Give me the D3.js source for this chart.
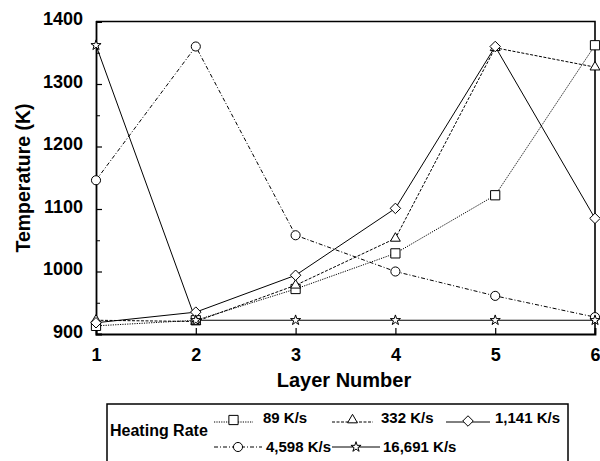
<!DOCTYPE html>
<html><head><meta charset="utf-8">
<script src="https://cdn.jsdelivr.net/npm/d3@7"></script>
<style>body{margin:0;background:#fff}svg{display:block;font-family:"Liberation Sans",Arial,sans-serif;font-weight:bold}</style>
</head><body><svg id="c" width="600" height="461"></svg>
<script>
const layers = [1,2,3,4,5,6];
const seriesNames = ["89 K/s","332 K/s","1,141 K/s","4,598 K/s","16,691 K/s"];
const s89 = [913, 922, 972, 1029, 1122, 1362];
const s332 = [922, 920, 978, 1053, 1358, 1327];
const s1141 = [918, 935, 994, 1101, 1360, 1085];
const s4598 = [1146, 1360, 1058, 1000, 961, 927];
const s16691 = [1362, 922, 922, 922, 922, 922];
const yTicks = [900,1000,1100,1200,1300,1400];
const xTicks = [1,2,3,4,5,6];
const symbols = ["square","triangle","diamond","circle","star"];
const dashes = ["1.2,1.2","3,1.5","none","4,2,1,2","none"];
const allSeries = [s89,s332,s1141,s4598,s16691];

const svg = d3.select("#c");
const x = d3.scaleLinear().domain([1,6]).range([96,595]);
const y = d3.scaleLinear().domain([900,1400]).range([334,21.5]);

// axes
const gx = svg.append("g").attr("transform","translate(0,334)")
  .call(d3.axisBottom(x).tickValues(xTicks).tickSize(-6).tickPadding(14).tickFormat(d3.format("d")));
const gy = svg.append("g").attr("transform","translate(96,0)")
  .call(d3.axisLeft(y).tickValues(yTicks).tickSize(-6).tickPadding(13).tickFormat(d3.format("d")));
svg.append("g").attr("transform","translate(96,0)")
  .call(d3.axisLeft(y).tickValues(d3.range(950,1400,100)).tickSize(-4).tickFormat(""))
  .select(".domain").remove();
[gx,gy].forEach(g=>{g.selectAll("text").attr("font-size",18).attr("font-weight","bold").attr("fill","#000");
  g.select(".domain").attr("stroke-width",1.8);
  g.selectAll(".tick line").attr("stroke-width",1.2);});
gy.selectAll(".tick text").attr("dy","0.18em");
// frame top/right
svg.append("path").attr("d",`M${x(1)},${y(1400)}H${x(6)}V${y(900)}`).attr("fill","none").attr("stroke","#000").attr("stroke-width",1.6);

svg.append("text").attr("x",344).attr("y",387).attr("text-anchor","middle").attr("font-size",20).text("Layer Number");
svg.append("text").attr("transform","translate(30,178) rotate(-90)").attr("text-anchor","middle").attr("font-size",19.5).text("Temperature (K)");

const line = d3.line().x((d,i)=>x(layers[i])).y(d=>y(d));
const diamond = {draw(ctx,size){const r=Math.sqrt(size)/Math.SQRT2;ctx.moveTo(0,-r);ctx.lineTo(r,0);ctx.lineTo(0,r);ctx.lineTo(-r,0);ctx.closePath();}};
const symType = {square:d3.symbolSquare,triangle:d3.symbolTriangle,diamond:diamond,circle:d3.symbolCircle,star:d3.symbolStar};
const symSize = {square:85,triangle:42,diamond:55,circle:65,star:32};
function sym(name){return d3.symbol().type(symType[name]).size(symSize[name])();}

allSeries.forEach((s,k)=>{
  svg.append("path").attr("d",line(s)).attr("fill","none").attr("stroke","#000")
    .attr("stroke-width",1).attr("stroke-dasharray",dashes[k]);
});
allSeries.forEach((s,k)=>{
  svg.append("g").selectAll("path").data(s).join("path")
    .attr("transform",(d,i)=>`translate(${x(layers[i])},${y(d)})`)
    .attr("d",sym(symbols[k])).attr("fill","#fff").attr("stroke","#000").attr("stroke-width",1);
});

// legend
svg.append("rect").attr("x",107).attr("y",404).attr("width",461).attr("height",70).attr("fill","#fff").attr("stroke","#000").attr("stroke-width",1.5);
svg.append("text").attr("x",110).attr("y",436).attr("font-size",16).text("Heating Rate");
const legPos = [[214,253,422,263],[332,373,422,381],[446,490,422,495],[214,262,447,266],[332,380,447,383]];
legPos.forEach((p,k)=>{
  svg.append("line").attr("x1",p[0]).attr("x2",p[1]).attr("y1",p[2]).attr("y2",p[2])
    .attr("stroke","#000").attr("stroke-width",1).attr("stroke-dasharray",dashes[k]);
  svg.append("path").attr("transform",`translate(${(p[0]+p[1])/2},${p[2]-(k==1?2:k==2?1:k==0?2:0)})`)
    .attr("d",sym(symbols[k])).attr("fill","#fff").attr("stroke","#000");
  svg.append("text").attr("x",p[3]).attr("y",p[2]+(k<3?1:5)).attr("font-size",15).text(seriesNames[k]);
});
</script></body></html>
